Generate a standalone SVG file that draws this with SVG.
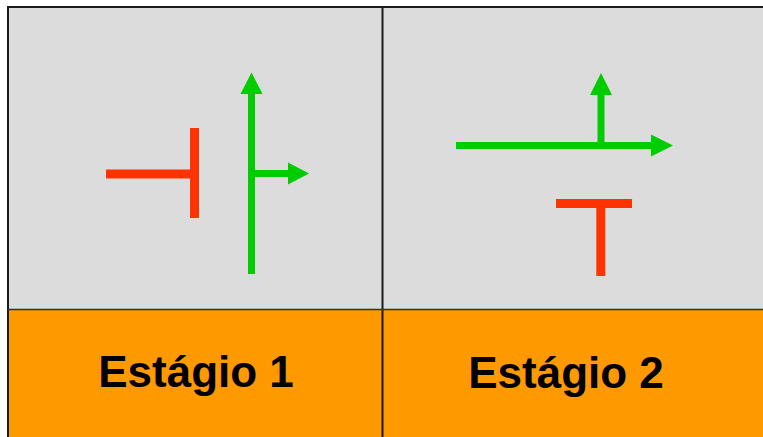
<svg xmlns="http://www.w3.org/2000/svg" width="763" height="437" viewBox="0 0 763 437">
<defs>
<style>
.panel{fill:#dcdcdc}
.foot{fill:#ff9900}
.border{stroke:#1a1a1a;stroke-width:2;fill:none}
.red{stroke:#ff3300;stroke-width:9;fill:none}
.green{stroke:#00cc00;stroke-width:7;fill:none}
.head{fill:#00cc00}
.label{font-family:"Liberation Sans",Arial,sans-serif;font-weight:bold;font-size:44px;fill:#000;text-anchor:middle}
</style>
</defs>
<rect x="0" y="0" width="763" height="437" fill="#ffffff"/>
<g id="stage1">
<rect class="panel" x="8" y="7" width="375" height="302"/>
<rect class="foot" x="8" y="309" width="375" height="128"/>
<text class="label" x="196" y="387">Estágio 1</text>
</g>
<g id="stage2">
<rect class="panel" x="383" y="7" width="380" height="302"/>
<rect class="foot" x="383" y="309" width="380" height="128"/>
<text class="label" x="566" y="388">Estágio 2</text>
</g>
<g id="grid">
<path class="border" d="M8 7H763M8 6V437M382.5 7V437"/>
<path d="M8 309.5H763" stroke="#333" stroke-width="1.5"/>
</g>
<g id="connectors">
<path class="red" d="M106 174H194.5M194.5 128V218"/>
<path class="green" d="M251.5 274V92M251.5 173.5H289"/>
<path class="head" d="M251.5 72.5L240.5 94L262.5 94Z"/>
<path class="head" d="M309 173.5L288 162.5L288 184.5Z"/>
<path class="green" d="M456 145.5H652M601 145.5V93"/>
<path class="head" d="M673 145.5L651 134.5L651 156.5Z"/>
<path class="head" d="M601 73L590 95L612 95Z"/>
<path class="red" d="M556 203.5H632M600.8 203.5V276"/>
</g>
</svg>
